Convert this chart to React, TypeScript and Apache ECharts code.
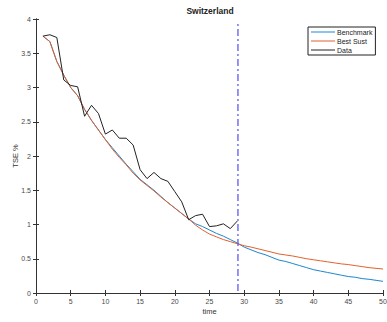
import React, { useEffect, useRef } from "react";
import * as echarts from "echarts";

const timeModel: number[] = Array.from({ length: 50 }, (_, i) => i + 1);
const timeData: number[] = Array.from({ length: 29 }, (_, i) => i + 1);

const benchmark: number[] = [
  3.75, 3.67, 3.38, 3.18, 3.0, 2.88, 2.68, 2.52, 2.38, 2.24,
  2.12, 2.0, 1.88, 1.77, 1.66, 1.58, 1.5, 1.41, 1.32, 1.24,
  1.16, 1.08, 1.01, 0.97, 0.92, 0.87, 0.83, 0.78, 0.73, 0.67,
  0.63, 0.59, 0.56, 0.52, 0.48, 0.46, 0.43, 0.4, 0.37, 0.34,
  0.32, 0.3, 0.28, 0.26, 0.24, 0.23, 0.21, 0.2, 0.185, 0.17,
];

const bestSust: number[] = [
  3.75, 3.67, 3.38, 3.18, 3.0, 2.88, 2.68, 2.52, 2.38, 2.24,
  2.1, 1.98, 1.87, 1.75, 1.65, 1.57, 1.49, 1.4, 1.32, 1.24,
  1.16, 1.08, 0.99, 0.92, 0.86, 0.82, 0.78, 0.75, 0.72, 0.69,
  0.67, 0.645, 0.62, 0.595, 0.57, 0.555, 0.54, 0.52, 0.5, 0.485,
  0.47, 0.455, 0.44, 0.425, 0.415, 0.4, 0.385, 0.37, 0.36, 0.35,
];

const actual: number[] = [
  3.75, 3.77, 3.73, 3.11, 3.03, 3.01, 2.58, 2.74, 2.62, 2.32,
  2.38, 2.26, 2.26, 2.16, 1.8, 1.67, 1.76, 1.67, 1.63, 1.48,
  1.33, 1.07, 1.13, 1.15, 0.97, 0.98, 1.01, 0.94, 1.05,
];

const cutoffX = 29.1;
const yRange: number[] = [0.03, 3.94];

const pair = (xs: number[], ys: number[]) => ys.map((y, i) => [xs[i], y]);

export default function App() {
  const ref = useRef<HTMLDivElement>(null);
  useEffect(() => {
    if (!ref.current) return;
    const chart = echarts.init(ref.current, null, { renderer: "svg" });
    const font = "Liberation Sans, Arial, sans-serif";
    const axisColor = "#333333";
    const labelColor = "#4a4a4a";
    const baseX = {
      type: "value" as const,
      min: 0,
      max: 50,
      interval: 5,
      splitLine: { show: false },
      axisLine: { show: true, lineStyle: { color: axisColor, width: 1 } },
      axisTick: { show: true, inside: true, length: 3, lineStyle: { color: axisColor } },
    };
    const baseY = {
      type: "value" as const,
      min: 0,
      max: 4,
      interval: 0.5,
      splitLine: { show: false },
      axisLine: { show: true, lineStyle: { color: axisColor, width: 1 } },
      axisTick: { show: true, inside: true, length: 3, lineStyle: { color: axisColor } },
    };
    chart.setOption({
      animation: false,
      backgroundColor: "#ffffff",
      textStyle: { fontFamily: font },
      title: {
        text: "Switzerland",
        left: 210,
        textAlign: "center",
        top: 6,
        padding: 0,
        textStyle: { fontSize: 8.5, fontWeight: "bold", color: "#222222", fontFamily: font },
      },
      grid: { left: 36, right: 4, top: 19, bottom: 29, containLabel: false, outerBoundsMode: "none" },
      legend: {
        data: ["Benchmark", "Best Sust", "Data"],
        orient: "vertical",
        left: 308,
        top: 27,
        padding: [1, 3, 1, 3],
        itemGap: 1,
        itemWidth: 24,
        itemHeight: 8,
        icon: "path://M0,4 L24,4 L24,5 L0,5 Z",
        borderColor: "#222222",
        borderWidth: 1,
        backgroundColor: "#ffffff",
        textStyle: { fontSize: 7, color: "#222222", lineHeight: 8, fontFamily: font, padding: [0, 0, 0, -3] },
      },
      xAxis: [
        {
          ...baseX,
          position: "bottom",
          name: "time",
          nameLocation: "middle",
          nameGap: 14,
          nameMoveOverlap: false,
          nameTextStyle: { fontSize: 7.5, color: "#333333", fontFamily: font },
          axisLabel: { fontSize: 7, color: labelColor, margin: 5, fontFamily: font },
        },
        { ...baseX, position: "top", axisLabel: { show: false } },
      ],
      yAxis: [
        {
          ...baseY,
          position: "left",
          name: "TSE %",
          nameLocation: "middle",
          nameGap: 17,
          nameMoveOverlap: false,
          nameTextStyle: { fontSize: 7.5, color: "#333333", fontFamily: font },
          axisLabel: { fontSize: 7, color: labelColor, margin: 5, fontFamily: font },
        },
        { ...baseY, position: "right", axisLabel: { show: false } },
      ],
      series: [
        {
          name: "Benchmark",
          type: "line",
          data: pair(timeModel, benchmark),
          symbol: "none",
          color: "#1b86cf",
          lineStyle: { width: 1, color: "#1b86cf" },
          z: 2,
        },
        {
          name: "Best Sust",
          type: "line",
          data: pair(timeModel, bestSust),
          symbol: "none",
          color: "#e2612c",
          lineStyle: { width: 1, color: "#e2612c" },
          z: 3,
        },
        {
          name: "Data",
          type: "line",
          data: pair(timeData, actual),
          symbol: "none",
          color: "#222222",
          lineStyle: { width: 1, color: "#222222" },
          z: 4,
        },
        {
          name: "cutoff",
          type: "line",
          data: yRange.map((y) => [cutoffX, y]),
          symbol: "none",
          lineStyle: { width: 1.3, color: "#5b5bf0", type: [7, 3, 2, 3] },
          z: 5,
        },
      ],
    });
    return () => chart.dispose();
  }, []);
  return <div ref={ref} style={{ width: 387, height: 322, position: "absolute", left: 0, top: 0 }} />;
}
